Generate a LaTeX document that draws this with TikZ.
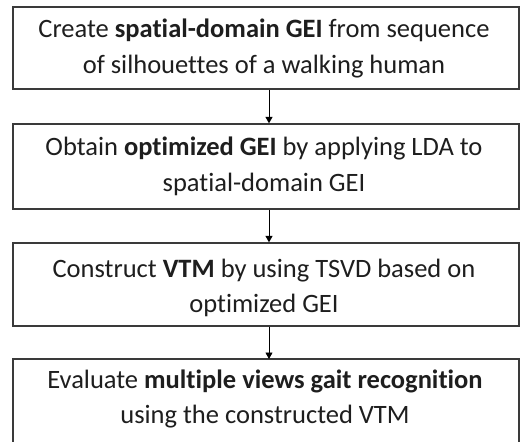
\documentclass[tikz,border=0pt]{standalone}
\usepackage{fontspec}
\setmainfont[Ligatures={NoCommon}]{Carlito}
\usetikzlibrary{arrows.meta}
\definecolor{framegray}{HTML}{3A3A3A}
\definecolor{textgray}{HTML}{1E1E1E}
\begin{document}
\begin{tikzpicture}[x=1pt,y=-1pt,
  frame/.style={draw=framegray, line width=1.3pt},
  box/.style={frame, minimum width=506pt, inner sep=0pt},
  txt/.style={anchor=base, inner sep=0pt, text=textgray, font=\fontsize{26.5}{36}\selectfont},
  conn/.style={draw=black, line width=0.9pt, -{Triangle[width=7pt,length=6.5pt]}}]
\useasboundingbox (0,0) rectangle (520,442);
\fill[white] (0,0) rectangle (520,442);
\begin{scope}
\clip (0,0) rectangle (520,442);
% boxes
\node[box, minimum height=82pt] (b1) at (266,48) {};
\node[box, minimum height=85pt] (b2) at (266,166.5) {};
\node[box, minimum height=83pt] (b3) at (266,284.5) {};
\draw[frame] (13,470) |- (519,359) -- (519,470);
\coordinate (b4top) at (269,359);
% texts
\node[txt] (t1a) at (264,37) {Create \textbf{spatial-domain GEI} from sequence};
\node[txt] (t1b) at (264,73) {of silhouettes of a walking human};
\node[txt] (t2a) at (264,155) {Obtain \textbf{optimized GEI} by applying LDA to};
\node[txt] (t2b) at (264,191) {spatial-domain GEI};
\node[txt] (t3a) at (264,277) {Construct \textbf{VTM} by using TSVD based on};
\node[txt] (t3b) at (264,312) {optimized GEI};
\node[txt] (t4a) at (265,388) {Evaluate \textbf{multiple views gait recognition}};
\node[txt] (t4b) at (265,423) {using the constructed VTM};
% connectors
\draw[conn] ([xshift=3pt]b1.south) -- ([xshift=3pt]b2.north);
\draw[conn] ([xshift=3pt]b2.south) -- ([xshift=3pt]b3.north);
\draw[conn] ([xshift=3pt]b3.south) -- (b4top);
\end{scope}
\end{tikzpicture}
\end{document}
